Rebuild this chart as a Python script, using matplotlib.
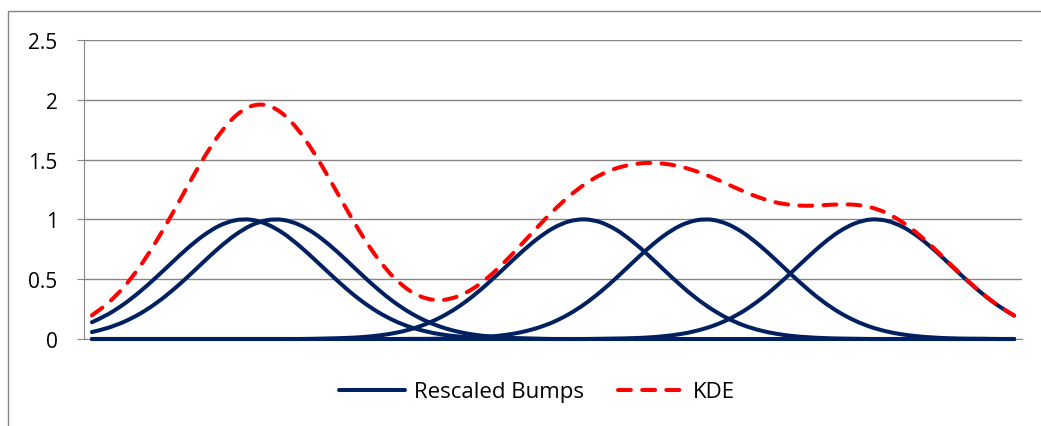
import numpy as np
import matplotlib
matplotlib.use('Agg')
from matplotlib import pyplot as plt
from matplotlib.path import Path
from matplotlib.patches import PathPatch, Rectangle
from matplotlib.lines import Line2D

# ---------------------------------------------------------------------------
# rescaled gaussian bumps, one per sample, and their sum (the KDE)

bump_1 = [0.140, 0.206, 0.291, 0.394, 0.511, 0.635, 0.757, 0.864, 0.946, 0.992,
          0.997, 0.960, 0.887, 0.784, 0.665, 0.541, 0.421, 0.314, 0.225, 0.154,
          0.101, 0.064, 0.038, 0.022, 0.012, 0.007, 0.003, 0.002, 0, 0,
          0, 0, 0, 0, 0, 0, 0, 0, 0, 0,
          0, 0, 0, 0, 0, 0, 0, 0, 0, 0,
          0, 0, 0, 0, 0, 0, 0, 0, 0]
bump_2 = [0.058, 0.093, 0.143, 0.210, 0.296, 0.400, 0.517, 0.642, 0.763, 0.869,
          0.949, 0.993, 0.996, 0.957, 0.882, 0.779, 0.659, 0.534, 0.415, 0.309,
          0.221, 0.151, 0.099, 0.062, 0.037, 0.022, 0.012, 0.006, 0.003, 0,
          0, 0, 0, 0, 0, 0, 0, 0, 0, 0,
          0, 0, 0, 0, 0, 0, 0, 0, 0, 0,
          0, 0, 0, 0, 0, 0, 0, 0, 0]
bump_3 = [0, 0, 0, 0, 0, 0, 0, 0, 0, 0,
          0, 0, 0, 0, 0.002, 0.005, 0.009, 0.016, 0.029, 0.049,
          0.080, 0.125, 0.186, 0.265, 0.363, 0.477, 0.600, 0.724, 0.836, 0.926,
          0.983, 1.000, 0.975, 0.911, 0.815, 0.700, 0.575, 0.453, 0.342, 0.248,
          0.172, 0.114, 0.073, 0.045, 0.026, 0.015, 0.008, 0.004, 0.002, 0,
          0, 0, 0, 0, 0, 0, 0, 0, 0]
bump_4 = [0, 0, 0, 0, 0, 0, 0, 0, 0, 0,
          0, 0, 0, 0, 0, 0, 0, 0, 0, 0,
          0.001, 0.001, 0.003, 0.006, 0.011, 0.020, 0.034, 0.057, 0.092, 0.141,
          0.208, 0.293, 0.396, 0.513, 0.638, 0.759, 0.866, 0.947, 0.992, 0.997,
          0.959, 0.885, 0.782, 0.663, 0.538, 0.419, 0.312, 0.223, 0.153, 0.100,
          0.063, 0.038, 0.022, 0.012, 0.006, 0.003, 0.002, 0, 0]
bump_5 = [0, 0, 0, 0, 0, 0, 0, 0, 0, 0,
          0, 0, 0, 0, 0, 0, 0, 0, 0, 0,
          0, 0, 0, 0, 0, 0, 0, 0, 0, 0,
          0, 0, 0.002, 0.004, 0.007, 0.013, 0.024, 0.041, 0.068, 0.107,
          0.162, 0.235, 0.327, 0.436, 0.557, 0.681, 0.799, 0.898, 0.967, 0.999,
          0.988, 0.937, 0.852, 0.742, 0.619, 0.495, 0.380, 0.279, 0.196]
kde = [0.198, 0.299, 0.434, 0.604, 0.807, 1.035, 1.274, 1.506, 1.708, 1.861,
       1.946, 1.954, 1.883, 1.743, 1.549, 1.324, 1.089, 0.865, 0.669, 0.513,
       0.403, 0.341, 0.326, 0.356, 0.424, 0.525, 0.650, 0.789, 0.932, 1.069,
       1.192, 1.294, 1.373, 1.428, 1.460, 1.472, 1.465, 1.442, 1.403, 1.352,
       1.293, 1.234, 1.182, 1.143, 1.121, 1.114, 1.119, 1.125, 1.122, 1.100,
       1.052, 0.975, 0.874, 0.754, 0.626, 0.498, 0.381, 0.280, 0.197]

y_ticks  = [0, 0.5, 1, 1.5, 2, 2.5]
y_labels = ['0', '0.5', '1', '1.5', '2', '2.5']
labels   = ['Rescaled Bumps', 'KDE']

# ---------------------------------------------------------------------------

def smooth_path(xs, ys):
	# catmull-rom through the points, as cubic bezier segments
	pts = np.column_stack([xs, ys]).astype(float)
	n = len(pts)
	verts = [pts[0]]
	codes = [Path.MOVETO]
	for i in range(n - 1):
		p0 = pts[max(i - 1, 0)]
		p1 = pts[i]
		p2 = pts[i + 1]
		p3 = pts[min(i + 2, n - 1)]
		verts += [p1 + (p2 - p0) / 6, p2 - (p3 - p1) / 6, p2]
		codes += [Path.CURVE4] * 3
	return Path(verts, codes)


plt.rcParams['font.family'] = ['Open Sans', 'DejaVu Sans']
navy = '#002060'
red  = '#ff0000'
grey = '#868686'
dash = (0, (3.2, 2.8))

fig = plt.figure(figsize=(10.41, 4.27), dpi=100)
fig.patches.append(Rectangle((8 / 1041, -0.1), 1.2, 1 - 12 / 427 + 0.1,
                             transform=fig.transFigure, fill=False,
                             edgecolor=grey, lw=1.0))
ax = fig.add_axes([84 / 1041, 1 - 340 / 427, (1022 - 84) / 1041, (340 - 41) / 427])

x = np.arange(len(kde))
for b in [bump_1, bump_2, bump_3, bump_4, bump_5]:
	ax.add_patch(PathPatch(smooth_path(x, b), fill=False, edgecolor=navy,
	                       lw=2.9, capstyle='round', joinstyle='round',
	                       clip_on=False, zorder=3))
ax.add_patch(PathPatch(smooth_path(x, kde), fill=False, edgecolor=red,
                       lw=2.9, linestyle=dash, capstyle='round',
                       clip_on=False, zorder=4))

ax.set_xlim(-0.5, len(kde) - 0.5)
ax.set_ylim(0, 2.5)
ax.set_yticks(y_ticks)
ax.set_yticklabels(y_labels)
ax.set_xticks([])
ax.grid(axis='y', color=grey, lw=1.0)
ax.set_axisbelow(True)
ax.spines['top'   ].set_visible(False)
ax.spines['right' ].set_visible(False)
ax.spines['left'  ].set_color(grey)
ax.spines['bottom'].set_color(grey)
ax.tick_params(axis='y', length=5, color=grey, pad=14, labelsize=15)

handles = [Line2D([], [], color=navy, lw=2.9, solid_capstyle='round'),
           Line2D([], [], color=red, lw=2.9, linestyle=dash, dash_capstyle='round')]
fig.legend(handles, labels, loc='center',
           bbox_to_anchor=(537 / 1041, 1 - 393 / 427), ncol=2, frameon=False,
           fontsize=16, handlelength=3.0, handletextpad=0.4, columnspacing=1.5)

fig.savefig('out.png', dpi=100)
